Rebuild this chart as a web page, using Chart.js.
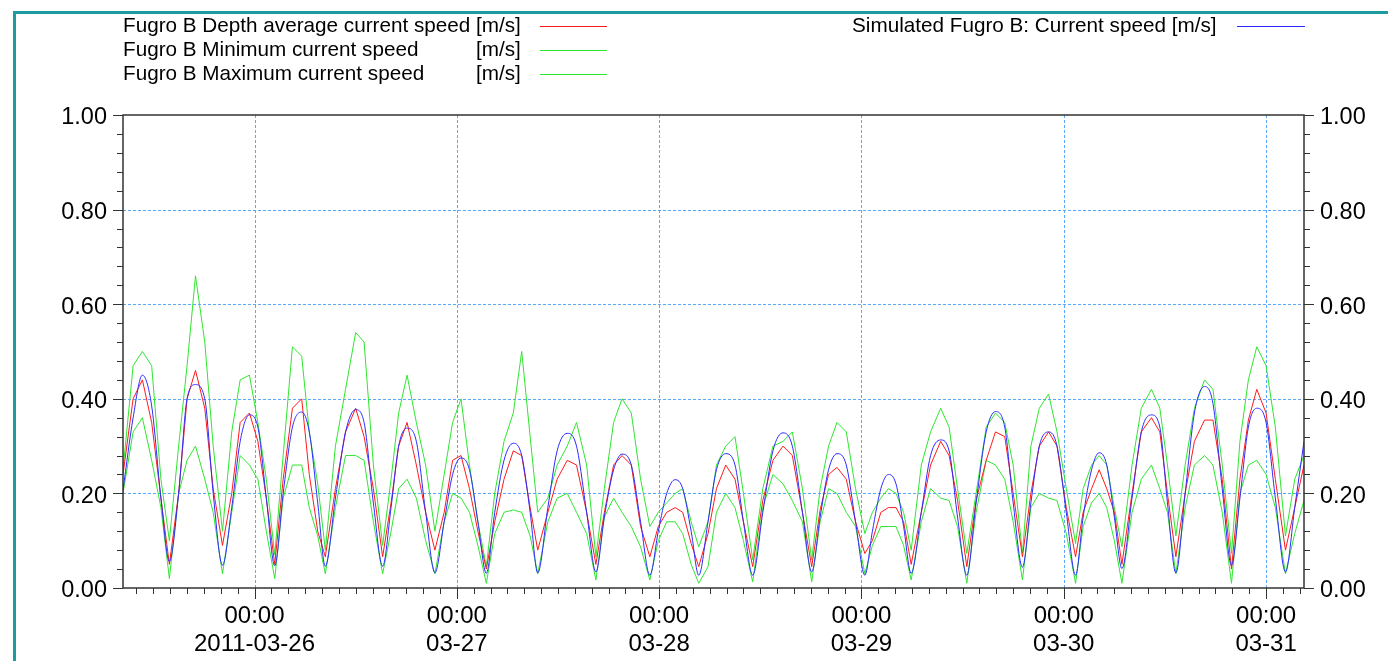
<!DOCTYPE html>
<html>
<head>
<meta charset="utf-8">
<script src="https://cdn.jsdelivr.net/npm/chart.js@4.4.1/dist/chart.umd.min.js"></script>
<style>
  html, body { margin: 0; padding: 0; background: #fff; }
  canvas { display: block; }
</style>
</head>
<body>
<canvas id="speedChart" width="1388" height="661"></canvas>
<script>
// time axis: hours after 2011-03-26 00:00
const hours = [
  -15.6, -14.4, -13.3,
  -12.2, -11.1, -10.1, -9.0, -8.0, -7.0,
  -5.9, -4.9, -3.8, -2.7, -1.7, -0.6,
  0.4, 1.4, 2.4, 3.4, 4.5, 5.6,
  6.5, 7.5, 8.4, 9.6, 10.8, 12.0,
  13.0, 14.1, 15.2, 16.2, 17.1, 18.1,
  19.2, 20.3, 21.4, 22.5, 23.5, 24.5,
  25.5, 26.5, 27.5, 28.5, 29.6, 30.7,
  31.7, 32.7, 33.6, 34.8, 35.9, 37.1,
  38.2, 39.4, 40.5, 41.5, 42.6, 43.6,
  44.7, 45.8, 46.9, 47.9, 48.9, 49.9,
  50.8, 51.8, 52.7, 53.8, 54.8, 55.9,
  57.0, 58.0, 59.1, 60.3, 61.5, 62.7,
  63.8, 65.0, 66.1, 67.1, 68.1, 69.1,
  70.2, 71.3, 72.4, 73.3, 74.3, 75.2,
  76.1, 77.0, 77.9, 79.1, 80.2, 81.4,
  82.4, 83.4, 84.5, 85.6, 86.8, 87.9,
  89.0, 90.0, 91.1, 92.1, 93.1, 94.2,
  95.2, 96.3, 97.4, 98.3, 99.3, 100.2,
  101.1, 102.0, 102.9, 104.1, 105.2, 106.4,
  107.4, 108.3, 109.3, 110.4, 111.5, 112.7,
  113.7, 114.8, 115.9, 116.9, 117.9, 118.9,
  120.0, 121.1, 122.3, 123.4, 124.5
];

// current speed [m/s]
const simSpeed = [
  0.207, 0.36, 0.45,
  0.385, 0.19, 0.056, 0.20, 0.40, 0.43,
  0.40, 0.20, 0.048, 0.17, 0.31, 0.366,
  0.34, 0.19, 0.047, 0.20, 0.34, 0.372,
  0.33, 0.18, 0.046, 0.19, 0.33, 0.377,
  0.35, 0.18, 0.046, 0.17, 0.30, 0.338,
  0.31, 0.16, 0.032, 0.14, 0.24, 0.275,
  0.25, 0.14, 0.031, 0.16, 0.27, 0.306,
  0.28, 0.16, 0.032, 0.17, 0.29, 0.327,
  0.30, 0.16, 0.034, 0.15, 0.25, 0.283,
  0.26, 0.14, 0.027, 0.12, 0.20, 0.229,
  0.21, 0.12, 0.027, 0.14, 0.25, 0.284,
  0.26, 0.14, 0.027, 0.16, 0.29, 0.328,
  0.30, 0.16, 0.034, 0.15, 0.25, 0.284,
  0.26, 0.14, 0.027, 0.12, 0.21, 0.24,
  0.22, 0.13, 0.031, 0.16, 0.28, 0.313,
  0.29, 0.15, 0.027, 0.18, 0.33, 0.373,
  0.34, 0.18, 0.044, 0.18, 0.30, 0.33,
  0.30, 0.16, 0.027, 0.15, 0.25, 0.286,
  0.26, 0.15, 0.041, 0.19, 0.33, 0.366,
  0.34, 0.18, 0.032, 0.20, 0.37, 0.426,
  0.39, 0.21, 0.048, 0.19, 0.34, 0.38,
  0.35, 0.19, 0.034, 0.17, 0.31
];

const meanSpeed = [
  0.24, 0.40, 0.44,
  0.35, 0.19, 0.05, 0.20, 0.40, 0.46,
  0.38, 0.21, 0.09, 0.20, 0.35, 0.37,
  0.31, 0.19, 0.05, 0.23, 0.38, 0.40,
  0.24, 0.12, 0.066, 0.21, 0.33, 0.38,
  0.32, 0.21, 0.066, 0.18, 0.30, 0.35,
  0.26, 0.16, 0.08, 0.16, 0.27, 0.28,
  0.21, 0.12, 0.04, 0.14, 0.23, 0.29,
  0.28, 0.17, 0.08, 0.16, 0.23, 0.27,
  0.26, 0.16, 0.05, 0.16, 0.26, 0.28,
  0.26, 0.13, 0.066, 0.13, 0.16, 0.17,
  0.16, 0.094, 0.045, 0.115, 0.21, 0.26,
  0.23, 0.14, 0.045, 0.185, 0.27, 0.30,
  0.28, 0.16, 0.045, 0.165, 0.24, 0.255,
  0.23, 0.14, 0.073, 0.10, 0.16, 0.17,
  0.17, 0.14, 0.05, 0.16, 0.26, 0.31,
  0.28, 0.185, 0.045, 0.185, 0.27, 0.33,
  0.32, 0.20, 0.066, 0.20, 0.30, 0.33,
  0.30, 0.17, 0.066, 0.16, 0.21, 0.25,
  0.21, 0.16, 0.05, 0.20, 0.33, 0.36,
  0.33, 0.20, 0.066, 0.20, 0.31, 0.355,
  0.355, 0.23, 0.04, 0.23, 0.355, 0.42,
  0.37, 0.23, 0.08, 0.17, 0.26
];

const minSpeed = [
  0.20, 0.33, 0.36,
  0.27, 0.17, 0.02, 0.20, 0.27, 0.30,
  0.23, 0.16, 0.03, 0.16, 0.28, 0.26,
  0.23, 0.12, 0.02, 0.19, 0.26, 0.26,
  0.17, 0.11, 0.03, 0.17, 0.28, 0.28,
  0.27, 0.14, 0.03, 0.12, 0.21, 0.23,
  0.19, 0.10, 0.03, 0.14, 0.20, 0.19,
  0.16, 0.09, 0.01, 0.115, 0.16, 0.165,
  0.16, 0.11, 0.03, 0.14, 0.19, 0.20,
  0.16, 0.115, 0.017, 0.15, 0.19, 0.16,
  0.13, 0.087, 0.017, 0.10, 0.14, 0.14,
  0.115, 0.05, 0.01, 0.045, 0.16, 0.20,
  0.17, 0.10, 0.013, 0.17, 0.24, 0.22,
  0.185, 0.14, 0.013, 0.14, 0.21, 0.20,
  0.16, 0.13, 0.03, 0.09, 0.13, 0.13,
  0.13, 0.09, 0.017, 0.14, 0.21, 0.19,
  0.185, 0.13, 0.01, 0.16, 0.27, 0.26,
  0.23, 0.14, 0.017, 0.17, 0.20, 0.19,
  0.185, 0.115, 0.01, 0.13, 0.18, 0.20,
  0.17, 0.10, 0.01, 0.16, 0.23, 0.26,
  0.21, 0.16, 0.03, 0.17, 0.26, 0.28,
  0.26, 0.16, 0.01, 0.20, 0.26, 0.27,
  0.24, 0.17, 0.03, 0.115, 0.185
];

const maxSpeed = [
  0.25, 0.47, 0.50,
  0.47, 0.23, 0.10, 0.30, 0.47, 0.66,
  0.52, 0.30, 0.12, 0.33, 0.44, 0.45,
  0.35, 0.23, 0.07, 0.28, 0.51, 0.49,
  0.33, 0.22, 0.08, 0.30, 0.42, 0.54,
  0.52, 0.26, 0.09, 0.23, 0.37, 0.45,
  0.35, 0.26, 0.12, 0.24, 0.35, 0.40,
  0.26, 0.14, 0.045, 0.20, 0.31, 0.37,
  0.50, 0.32, 0.16, 0.19, 0.26, 0.30,
  0.35, 0.26, 0.066, 0.21, 0.35, 0.40,
  0.37, 0.23, 0.13, 0.16, 0.18, 0.20,
  0.21, 0.14, 0.087, 0.14, 0.26, 0.30,
  0.32, 0.20, 0.06, 0.21, 0.30, 0.31,
  0.33, 0.21, 0.06, 0.21, 0.30, 0.35,
  0.33, 0.21, 0.115, 0.16, 0.19, 0.21,
  0.20, 0.16, 0.08, 0.26, 0.33, 0.38,
  0.34, 0.21, 0.073, 0.20, 0.34, 0.37,
  0.35, 0.26, 0.073, 0.30, 0.38, 0.41,
  0.33, 0.21, 0.094, 0.21, 0.26, 0.28,
  0.26, 0.17, 0.087, 0.26, 0.38, 0.42,
  0.38, 0.26, 0.11, 0.26, 0.38, 0.44,
  0.42, 0.26, 0.073, 0.31, 0.44, 0.51,
  0.47, 0.34, 0.11, 0.23, 0.28
];

// axis labels
const dayHours = [0, 24, 48, 72, 96, 120];
const dayLabels = ['2011-03-26', '03-27', '03-28', '03-29', '03-30', '03-31'];
const timeLabel = '00:00';

const seriesNames = [
  'Fugro B Depth average current speed',
  'Fugro B Minimum current speed',
  'Fugro B Maximum current speed'
];
const unitLabel = '[m/s]';
const simName = 'Simulated Fugro B: Current speed [m/s]';

const RED = '#ff1a1a';
const GREEN = '#2ee62e';
const BLUE = '#2b2bff';
const GRID = '#5aa8ff';
const AXIS = '#333';
const FONT = '"Liberation Sans", Arial, sans-serif';

let xy = arr => arr.map((v, i) => ({x: hours[i], y: v}));

// dotted grid under the lines
const gridLines = {
  id: 'gridLines',
  beforeDatasetsDraw(chart) {
    const {ctx, chartArea: a, scales: {x, y}} = chart;
    ctx.save();
    ctx.strokeStyle = GRID;
    ctx.lineWidth = 1;
    ctx.setLineDash([3, 2]);
    [0.2, 0.4, 0.6, 0.8].forEach(v => {
      const py = Math.round(y.getPixelForValue(v)) + 0.5;
      ctx.beginPath(); ctx.moveTo(a.left, py); ctx.lineTo(a.right, py); ctx.stroke();
    });
    dayHours.forEach(h => {
      const px = Math.round(x.getPixelForValue(h)) + 0.5;
      ctx.beginPath(); ctx.moveTo(px, a.top); ctx.lineTo(px, a.bottom); ctx.stroke();
    });
    ctx.restore();
  }
};

// plot frame, tick marks, legend and outer border
const decorations = {
  id: 'decorations',
  afterDraw(chart) {
    const {ctx, chartArea: a, scales: {x, y}} = chart;
    ctx.save();

    ctx.strokeStyle = AXIS;
    ctx.lineWidth = 1.5;
    ctx.strokeRect(a.left, a.top, a.right - a.left, a.bottom - a.top);

    ctx.lineWidth = 1;
    ctx.beginPath();
    for (let k = 0; k <= 25; k++) {
      const py = Math.round(y.getPixelForValue(k * 0.04)) + 0.5;
      const len = k % 5 === 0 ? 10 : 6;
      ctx.moveTo(a.left, py); ctx.lineTo(a.left - len, py);
      ctx.moveTo(a.right, py); ctx.lineTo(a.right + len, py);
    }
    for (let h = Math.ceil(x.min / 2) * 2; h <= x.max; h += 2) {
      const px = Math.round(x.getPixelForValue(h)) + 0.5;
      const len = h % 24 === 0 ? 11 : 6;
      ctx.moveTo(px, a.bottom); ctx.lineTo(px, a.bottom + len);
    }
    ctx.stroke();

    // legend
    ctx.font = '20.7px ' + FONT;
    ctx.fillStyle = '#000';
    ctx.textBaseline = 'middle';
    const colors = [RED, GREEN, GREEN];
    const rowY = [26, 50, 74];
    seriesNames.forEach((name, i) => {
      ctx.fillText(name, 123, rowY[i]);
      ctx.fillText(unitLabel, 476, rowY[i]);
      ctx.strokeStyle = colors[i];
      ctx.beginPath(); ctx.moveTo(540, rowY[i] + 0.5); ctx.lineTo(607, rowY[i] + 0.5); ctx.stroke();
    });
    ctx.fillText(simName, 852, rowY[0]);
    ctx.strokeStyle = BLUE;
    ctx.beginPath(); ctx.moveTo(1237, rowY[0] + 0.5); ctx.lineTo(1305, rowY[0] + 0.5); ctx.stroke();

    // outer border
    ctx.strokeStyle = '#1c9ba1';
    ctx.lineWidth = 3;
    ctx.beginPath();
    ctx.moveTo(14.5, 661); ctx.lineTo(14.5, 12.5); ctx.lineTo(1388, 12.5);
    ctx.stroke();
    ctx.restore();
  }
};

const line = (label, data, color, order, smooth) => ({
  label, data: xy(data), borderColor: color, backgroundColor: color,
  borderWidth: 1, pointRadius: 0, order,
  cubicInterpolationMode: smooth ? 'monotone' : 'default', tension: 0
});

const yTicks = {
  stepSize: 0.2, padding: 16, labelOffset: 3, color: '#000',
  font: {family: FONT, size: 23.5},
  callback: v => v.toFixed(2)
};

new Chart(document.getElementById('speedChart'), {
  type: 'line',
  data: {
    datasets: [
      line(simName, simSpeed, BLUE, 0, true),
      line(seriesNames[0], meanSpeed, RED, 1, false),
      line(seriesNames[1], minSpeed, GREEN, 2, false),
      line(seriesNames[2], maxSpeed, GREEN, 3, false)
    ]
  },
  options: {
    responsive: false,
    animation: false,
    devicePixelRatio: 1,
    layout: {padding: {top: 115, left: 0, right: 0, bottom: 0}},
    plugins: {legend: {display: false}, tooltip: {enabled: false}},
    scales: {
      x: {
        type: 'linear', min: hours[0], max: hours[hours.length - 1],
        grid: {display: false, drawTicks: false}, border: {display: false},
        afterBuildTicks: s => { s.ticks = dayHours.map(v => ({value: v})); },
        afterFit: s => { s.height = 73; },
        ticks: {
          autoSkip: false, maxRotation: 0, padding: 14, color: '#000',
          font: {family: FONT, size: 24, lineHeight: 1.17},
          callback: (v, i) => [timeLabel, dayLabels[i]]
        }
      },
      y: {
        position: 'left', min: 0, max: 1,
        grid: {display: false, drawTicks: false}, border: {display: false},
        afterFit: s => { s.width = 123; },
        ticks: yTicks
      },
      y2: {
        position: 'right', min: 0, max: 1,
        grid: {display: false, drawTicks: false}, border: {display: false},
        afterFit: s => { s.width = 84; },
        ticks: yTicks
      }
    }
  },
  plugins: [gridLines, decorations]
});
</script>
</body>
</html>
